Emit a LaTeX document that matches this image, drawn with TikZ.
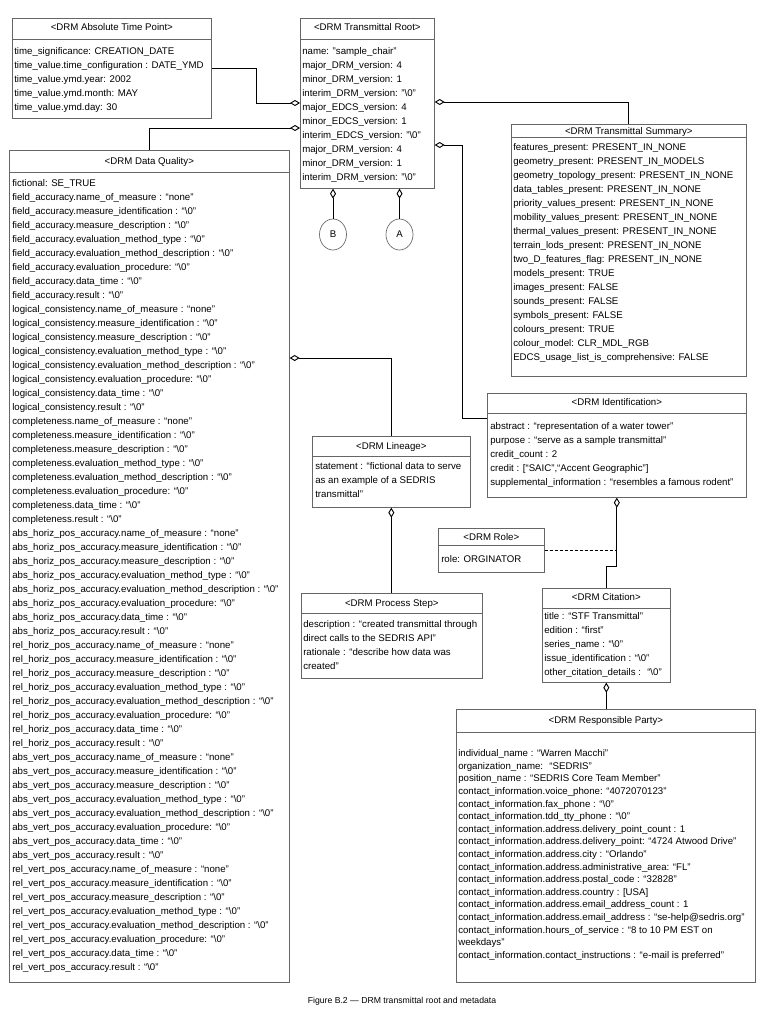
\documentclass[tikz,border=0pt]{standalone}
\usepackage{fontspec}
\setmainfont{Liberation Sans}
\usetikzlibrary{arrows.meta,shapes.geometric,calc}

\newcommand{\nulstr}{“\textbackslash 0”}

\begin{document}
\begin{tikzpicture}[x=0.75pt,y=-0.75pt,
    classbox/.style={draw=black!60,line width=0.5pt,anchor=north west,inner sep=0pt},
    boxsize/.style 2 args={minimum width=#1*0.75pt,minimum height=#2*0.75pt},
    classname/.style={font=\fontsize{7.25}{10.5}\selectfont,inner sep=0pt,anchor=base},
    attrs/.style={font=\fontsize{7.25}{10.5}\selectfont,align=left,anchor=north west,inner sep=0pt},
    attrline/.style={font=\fontsize{7.25}{10.5}\selectfont,inner sep=0pt,anchor=base west},
    sep/.style={draw=black!60,line width=0.5pt},
    link/.style={line width=0.7pt},
    agg/.style={link,{Diamond[open,length=7.5pt,width=4.5pt]}-}]
    \useasboundingbox (0,0) rectangle (770,1024);

    % absolute time point
    \node[classbox,boxsize={199}{100}] (atp) at (12,18) {};
    \draw[sep] (atp.west |- 0,39) -- (atp.east |- 0,39);
    \node[classname] (atp-name) at (atp.north |- 0,31) {<DRM Absolute Time Point>};
    \node[attrs] (atp-attrs) at (14,47.5) {time\_significance: CREATION\_DATE\\
        time\_value.time\_configuration : DATE\_YMD\\
        time\_value.ymd.year: 2002\\
        time\_value.ymd.month: MAY\\
        time\_value.ymd.day: 30};

    % transmittal root
    \node[classbox,boxsize={134}{170}] (root) at (300,18) {};
    \draw[sep] (root.west |- 0,39) -- (root.east |- 0,39);
    \node[classname] (root-name) at (root.north |- 0,31) {<DRM Transmittal Root>};
    \node[attrs] (root-attrs) at (302,47.5) {name: "sample\_chair"\\
        major\_DRM\_version: 4\\
        minor\_DRM\_version: 1\\
        interim\_DRM\_version: "\textbackslash 0"\\
        major\_EDCS\_version: 4\\
        minor\_EDCS\_version: 1\\
        interim\_EDCS\_version: "\textbackslash 0"\\
        major\_DRM\_version: 4\\
        minor\_DRM\_version: 1\\
        interim\_DRM\_version: "\textbackslash 0"};

    \node[ellipse,draw=black!60,line width=0.5pt,boxsize={27}{31},font=\fontsize{7.25}{10.5}\selectfont] (cb) at (333,234.5) {B};
    \node[ellipse,draw=black!60,line width=0.5pt,boxsize={27}{31},font=\fontsize{7.25}{10.5}\selectfont] (ca) at (399.5,234.5) {A};

    % transmittal summary
    \node[classbox,boxsize={235}{252}] (summary) at (511,124) {};
    \draw[sep] (summary.west |- 0,137.5) -- (summary.east |- 0,137.5);
    \node[classname] (summary-name) at (summary.north |- 0,134) {<DRM Transmittal Summary>};
    \node[attrs] (summary-attrs) at (513,143.5) {features\_present: PRESENT\_IN\_NONE\\
        geometry\_present: PRESENT\_IN\_MODELS\\
        geometry\_topology\_present: PRESENT\_IN\_NONE\\
        data\_tables\_present: PRESENT\_IN\_NONE\\
        priority\_values\_present: PRESENT\_IN\_NONE\\
        mobility\_values\_present: PRESENT\_IN\_NONE\\
        thermal\_values\_present: PRESENT\_IN\_NONE\\
        terrain\_lods\_present: PRESENT\_IN\_NONE\\
        two\_D\_features\_flag: PRESENT\_IN\_NONE\\
        models\_present: TRUE\\
        images\_present: FALSE\\
        sounds\_present: FALSE\\
        symbols\_present: FALSE\\
        colours\_present: TRUE\\
        colour\_model: CLR\_MDL\_RGB\\
        EDCS\_usage\_list\_is\_comprehensive: FALSE};

    % data quality
    \node[classbox,boxsize={280}{832}] (quality) at (9,150) {};
    \draw[sep] (quality.west |- 0,172) -- (quality.east |- 0,172);
    \node[classname] (quality-name) at (quality.north |- 0,164) {<DRM Data Quality>};
    \node[attrline] (dq-0) at (12,186) {fictional: SE\_TRUE};
    \foreach \grp [count=\i from 0] in {field\_accuracy,logical\_consistency,completeness,abs\_horiz\_pos\_accuracy,rel\_horiz\_pos\_accuracy,abs\_vert\_pos\_accuracy,rel\_vert\_pos\_accuracy}
        \foreach \fld [count=\j] in {name\_of\_measure : “none”,measure\_identification : \nulstr,measure\_description : \nulstr,evaluation\_method\_type : \nulstr,evaluation\_method\_description : \nulstr,evaluation\_procedure: \nulstr,data\_time : \nulstr,result : \nulstr}
            \node[attrline] (dq-\i-\j) at (12,{186+14*(8*\i+\j)}) {\grp.\fld};

    % identification
    \node[classbox,boxsize={259}{104}] (ident) at (487,393) {};
    \draw[sep] (ident.west |- 0,413) -- (ident.east |- 0,413);
    \node[classname] (ident-name) at (ident.north |- 0,405) {<DRM Identification>};
    \node[attrs] (ident-attrs) at (490,422.5) {abstract : “representation of a water tower”\\
        purpose : “serve as a sample transmittal”\\
        credit\_count : 2\\
        credit : [“SAIC”,“Accent Geographic”]\\
        supplemental\_information : “resembles a famous rodent”};

    % lineage
    \node[classbox,boxsize={158}{71}] (lineage) at (312,436) {};
    \draw[sep] (lineage.west |- 0,456) -- (lineage.east |- 0,456);
    \node[classname] (lineage-name) at (lineage.north |- 0,449) {<DRM Lineage>};
    \node[attrs] (lineage-attrs) at (315,462.5) {statement : “fictional data to serve\\
        as an example of a SEDRIS\\
        transmittal”};

    % process step
    \node[classbox,boxsize={181}{85}] (procstep) at (301,593) {};
    \draw[sep] (procstep.west |- 0,613) -- (procstep.east |- 0,613);
    \node[classname] (procstep-name) at (procstep.north |- 0,606) {<DRM Process Step>};
    \node[attrs] (procstep-attrs) at (303,620.5) {description : “created transmittal through\\
        direct calls to the SEDRIS API”\\
        rationale : “describe how data was\\
        created”};

    % role
    \node[classbox,boxsize={106}{44}] (role) at (438,528) {};
    \draw[sep] (role.west |- 0,545) -- (role.east |- 0,545);
    \node[classname] (role-name) at (role.north |- 0,540) {<DRM Role>};
    \node[attrs] (role-attrs) at (441,555.5) {role: ORGINATOR};

    % citation
    \node[classbox,boxsize={128}{94}] (citation) at (542,588) {};
    \draw[sep] (citation.west |- 0,608) -- (citation.east |- 0,608);
    \node[classname] (citation-name) at (citation.north |- 0,600) {<DRM Citation>};
    \node[attrs] (citation-attrs) at (544,612.5) {title : “STF Transmittal”\\
        edition : “first”\\
        series\_name : \nulstr\\
        issue\_identification : \nulstr\\
        other\_citation\_details : ~\nulstr};

    % responsible party
    \node[classbox,boxsize={299}{273}] (party) at (456,709) {};
    \draw[sep] (party.west |- 0,732) -- (party.east |- 0,732);
    \node[classname] (party-name) at (party.north |- 0,723) {<DRM Responsible Party>};
    \node[attrs,font=\fontsize{7.25}{9.45}\selectfont] (party-attrs) at (458,749.5) {individual\_name : “Warren Macchi”\\
        organization\_name: ~“SEDRIS”\\
        position\_name : “SEDRIS Core Team Member”\\
        contact\_information.voice\_phone: “4072070123”\\
        contact\_information.fax\_phone : \nulstr\\
        contact\_information.tdd\_tty\_phone : \nulstr\\
        contact\_information.address.delivery\_point\_count : 1\\
        contact\_information.address.delivery\_point: “4724 Atwood Drive”\\
        contact\_information.address.city : “Orlando”\\
        contact\_information.address.administrative\_area: “FL”\\
        contact\_information.address.postal\_code : “32828”\\
        contact\_information.address.country : [USA]\\
        contact\_information.address.email\_address\_count : 1\\
        contact\_information.address.email\_address : “se-help@sedris.org”\\
        contact\_information.hours\_of\_service : “8 to 10 PM EST on\\
        weekdays”\\
        contact\_information.contact\_instructions : “e-mail is preferred”};

    % connectors
    \draw[agg] (root.west |- 0,103) -| ($(atp.east)+(45,0)$) -- (atp.east);
    \draw[agg] (root.west |- 0,128) -| (quality.north);
    \draw[agg] (root.east |- 0,102) -| (summary.north);
    \draw[agg] (root.east |- 0,145) -- (462,145) |- (ident.west |- 0,418);
    \draw[agg] (cb.north |- root.south) -- (cb.north);
    \draw[agg] (ca.north |- root.south) -- (ca.north);
    \draw[agg] (quality.east |- 0,358) -| (lineage.north);
    \draw[agg] (lineage.south) -- (lineage.south |- procstep.north);
    \draw[agg] (ident.south) -- (ident.south |- 0,566) -| (citation.north);
    \draw[link,dash pattern=on 2.25pt off 1.5pt] (role.east) -- (role.east -| ident.south);
    \draw[agg] (citation.south) -- (citation.south |- party.north);

    \node[font=\fontsize{6.5}{8}\selectfont,anchor=base] (caption) at (402,1003) {Figure B.2 — DRM transmittal root and metadata};
\end{tikzpicture}
\end{document}
